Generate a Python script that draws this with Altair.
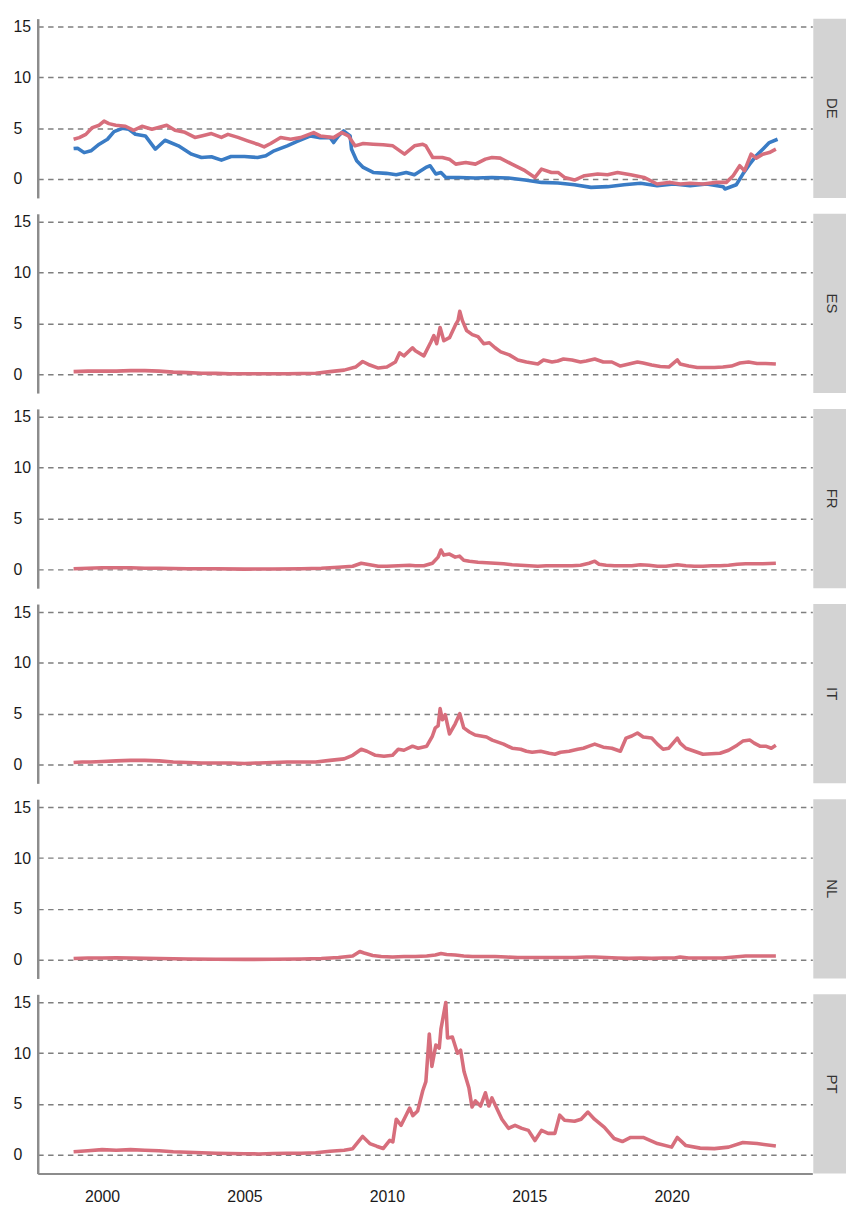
import altair as alt
import pandas as pd

countries = ["DE", "ES", "FR", "IT", "NL", "PT"]

# DE panel: blue series (short rate) and red series
de_blue_years = [1999.0, 1999.14, 1999.37, 1999.61, 1999.9, 2000.19, 2000.42, 2000.71, 2000.94, 2001.17,
                 2001.52, 2001.87, 2002.21, 2002.68, 2003.14, 2003.49, 2003.84, 2004.19, 2004.53, 2005.0,
                 2005.46, 2005.75, 2006.04, 2006.5, 2006.85, 2007.32, 2007.66, 2008.01, 2008.13, 2008.3,
                 2008.48, 2008.71, 2008.76, 2008.94, 2009.17, 2009.52, 2009.98, 2010.33, 2010.68, 2010.97,
                 2011.37, 2011.52, 2011.72, 2011.9, 2012.07, 2012.53, 2013.11, 2013.69, 2014.27, 2014.85,
                 2015.43, 2016.01, 2016.59, 2017.17, 2017.75, 2018.33, 2018.91, 2019.49, 2020.07, 2020.65,
                 2021.23, 2021.81, 2021.87, 2022.27, 2022.5, 2022.74, 2022.97, 2023.2, 2023.43, 2023.72]
de_blue_vals = [3.0, 3.04, 2.6, 2.78, 3.43, 3.92, 4.67, 5.0, 4.9, 4.41,
                4.25, 2.94, 3.82, 3.27, 2.45, 2.12, 2.19, 1.86, 2.22, 2.22,
                2.12, 2.29, 2.78, 3.27, 3.7, 4.25, 4.08, 4.08, 3.6, 4.25,
                4.74, 4.25, 2.94, 1.8, 1.14, 0.65, 0.56, 0.42, 0.65, 0.42,
                1.14, 1.31, 0.49, 0.65, 0.16, 0.16, 0.1, 0.16, 0.1, -0.1,
                -0.33, -0.39, -0.56, -0.82, -0.75, -0.56, -0.42, -0.65, -0.49, -0.65,
                -0.49, -0.75, -0.98, -0.56, 0.49, 1.47, 2.29, 2.94, 3.59, 3.92]

de_red_years = [1999.0, 1999.2, 1999.43, 1999.66, 1999.9, 2000.07, 2000.24, 2000.48, 2000.82, 2001.11,
                2001.4, 2001.75, 2001.98, 2002.27, 2002.56, 2002.91, 2003.26, 2003.49, 2003.84, 2004.19,
                2004.42, 2004.77, 2005.11, 2005.46, 2005.69, 2005.92, 2006.27, 2006.62, 2006.97, 2007.43,
                2007.66, 2008.13, 2008.42, 2008.65, 2008.88, 2009.17, 2009.52, 2009.87, 2010.21, 2010.62,
                2010.97, 2011.26, 2011.37, 2011.61, 2011.95, 2012.19, 2012.42, 2012.77, 2013.11, 2013.46,
                2013.69, 2013.98, 2014.39, 2014.85, 2015.2, 2015.43, 2015.78, 2016.01, 2016.24, 2016.59,
                2016.94, 2017.4, 2017.75, 2018.1, 2018.56, 2019.03, 2019.49, 2019.95, 2020.3, 2020.65,
                2021.11, 2021.58, 2021.92, 2022.16, 2022.39, 2022.56, 2022.79, 2022.97, 2023.2, 2023.43,
                2023.66]
de_red_vals = [3.92, 4.08, 4.4, 5.07, 5.3, 5.7, 5.46, 5.3, 5.2, 4.8,
               5.2, 4.9, 5.07, 5.3, 4.8, 4.6, 4.1, 4.25, 4.48, 4.1,
               4.4, 4.1, 3.76, 3.43, 3.17, 3.5, 4.1, 3.92, 4.08, 4.58,
               4.25, 4.08, 4.58, 4.25, 3.27, 3.5, 3.43, 3.37, 3.27, 2.45,
               3.27, 3.43, 3.27, 2.12, 2.12, 1.96, 1.47, 1.63, 1.47, 1.96,
               2.12, 2.06, 1.47, 0.82, 0.16, 0.98, 0.65, 0.65, 0.16, -0.1,
               0.33, 0.49, 0.42, 0.65, 0.42, 0.16, -0.49, -0.33, -0.49, -0.42,
               -0.49, -0.33, -0.33, 0.33, 1.31, 0.82, 2.45, 2.06, 2.45, 2.61,
               2.94]

es_years = [1999.0, 1999.5, 2000.0, 2000.5, 2001.0, 2001.5, 2002.0, 2002.5, 2003.0, 2003.5,
            2004.0, 2004.5, 2005.0, 2005.5, 2006.0, 2006.5, 2007.0, 2007.5, 2008.0, 2008.5,
            2008.9, 2009.15, 2009.4, 2009.7, 2010.0, 2010.3, 2010.45, 2010.6, 2010.9, 2011.0,
            2011.3, 2011.55, 2011.65, 2011.75, 2011.87, 2012.0, 2012.2, 2012.4, 2012.5, 2012.56,
            2012.65, 2012.8, 2013.0, 2013.2, 2013.4, 2013.6, 2013.8, 2014.0, 2014.3, 2014.6,
            2014.9, 2015.1, 2015.3, 2015.5, 2015.8, 2016.0, 2016.2, 2016.5, 2016.8, 2017.0,
            2017.3, 2017.6, 2017.9, 2018.2, 2018.5, 2018.8, 2019.0, 2019.3, 2019.6, 2019.9,
            2020.2, 2020.3, 2020.6, 2020.9, 2021.2, 2021.5, 2021.8, 2022.1, 2022.4, 2022.7,
            2023.0, 2023.3, 2023.66]
es_vals = [0.25, 0.3, 0.3, 0.3, 0.35, 0.35, 0.3, 0.2, 0.15, 0.1,
           0.08, 0.05, 0.05, 0.05, 0.05, 0.05, 0.07, 0.1, 0.25, 0.4,
           0.7, 1.25, 0.9, 0.6, 0.7, 1.2, 2.1, 1.8, 2.6, 2.3,
           1.8, 3.2, 3.8, 3.0, 4.6, 3.3, 3.6, 4.8, 5.3, 6.2,
           5.3, 4.3, 3.9, 3.7, 3.0, 3.1, 2.6, 2.2, 1.9, 1.4,
           1.2, 1.1, 1.0, 1.4, 1.2, 1.3, 1.5, 1.4, 1.2, 1.3,
           1.5, 1.2, 1.2, 0.8, 1.0, 1.2, 1.1, 0.9, 0.75, 0.7,
           1.4, 1.0, 0.8, 0.65, 0.65, 0.65, 0.7, 0.8, 1.1, 1.2,
           1.05, 1.05, 1.0]

fr_years = [1999.0, 1999.5, 2000.0, 2000.5, 2001.0, 2001.5, 2002.0, 2003.0, 2004.0, 2005.0,
            2006.0, 2007.0, 2007.7, 2008.3, 2008.8, 2009.1, 2009.4, 2009.7, 2010.0, 2010.4,
            2010.8, 2011.0, 2011.3, 2011.6, 2011.8, 2011.9, 2012.0, 2012.2, 2012.4, 2012.55,
            2012.7, 2012.9, 2013.2, 2013.5, 2013.8, 2014.1, 2014.4, 2014.7, 2015.0, 2015.3,
            2015.6, 2015.9, 2016.2, 2016.5, 2016.8, 2017.1, 2017.3, 2017.45, 2017.7, 2018.0,
            2018.3, 2018.6, 2018.9, 2019.2, 2019.5, 2019.8, 2020.2, 2020.5, 2020.8, 2021.1,
            2021.4, 2021.7, 2022.0, 2022.3, 2022.6, 2022.9, 2023.2, 2023.66]
fr_vals = [0.05, 0.1, 0.15, 0.15, 0.15, 0.1, 0.1, 0.05, 0.05, 0.02,
           0.03, 0.05, 0.1, 0.2, 0.3, 0.6, 0.45, 0.3, 0.3, 0.35,
           0.4, 0.35, 0.35, 0.6, 1.2, 1.9, 1.4, 1.5, 1.2, 1.3,
           0.9, 0.8, 0.7, 0.65, 0.6, 0.55, 0.45, 0.4, 0.35, 0.3,
           0.35, 0.35, 0.35, 0.35, 0.4, 0.6, 0.8, 0.5, 0.4, 0.35,
           0.35, 0.35, 0.45, 0.4, 0.3, 0.3, 0.45, 0.35, 0.3, 0.3,
           0.35, 0.35, 0.4, 0.5, 0.55, 0.55, 0.55, 0.6]

it_years = [1999.0, 1999.3, 1999.6, 2000.0, 2000.5, 2001.0, 2001.5, 2002.0, 2002.5, 2003.0,
            2003.5, 2004.0, 2004.5, 2005.0, 2005.5, 2006.0, 2006.5, 2007.0, 2007.5, 2008.0,
            2008.5, 2008.8, 2009.1, 2009.3, 2009.6, 2009.9, 2010.2, 2010.4, 2010.6, 2010.9,
            2011.1, 2011.4, 2011.6, 2011.7, 2011.8, 2011.87, 2011.95, 2012.05, 2012.2, 2012.4,
            2012.56, 2012.7, 2012.9, 2013.1, 2013.3, 2013.5, 2013.7, 2013.9, 2014.1, 2014.4,
            2014.7, 2014.9, 2015.1, 2015.4, 2015.7, 2015.9, 2016.1, 2016.4, 2016.7, 2016.9,
            2017.1, 2017.3, 2017.6, 2017.9, 2018.2, 2018.4, 2018.6, 2018.8, 2019.0, 2019.3,
            2019.5, 2019.7, 2019.9, 2020.2, 2020.3, 2020.5, 2020.8, 2021.1, 2021.4, 2021.7,
            2022.0, 2022.3, 2022.5, 2022.75, 2022.9, 2023.1, 2023.3, 2023.5, 2023.66]
it_vals = [0.2, 0.25, 0.25, 0.3, 0.35, 0.4, 0.4, 0.35, 0.25, 0.2,
           0.15, 0.15, 0.15, 0.1, 0.15, 0.2, 0.25, 0.25, 0.25, 0.4,
           0.55, 0.9, 1.5, 1.3, 0.9, 0.8, 0.9, 1.5, 1.4, 1.8,
           1.6, 1.8, 2.8, 3.6, 3.8, 5.5, 4.4, 4.9, 3.0, 4.0,
           5.0, 3.6, 3.2, 2.9, 2.8, 2.7, 2.4, 2.2, 2.0, 1.6,
           1.5, 1.3, 1.2, 1.3, 1.1, 1.0, 1.2, 1.3, 1.5, 1.6,
           1.8, 2.0, 1.7, 1.6, 1.3, 2.6, 2.8, 3.1, 2.7, 2.6,
           2.0, 1.5, 1.6, 2.6, 2.1, 1.6, 1.3, 1.0, 1.05, 1.1,
           1.4, 1.9, 2.3, 2.4, 2.1, 1.8, 1.8, 1.6, 1.9]

nl_years = [1999.0, 1999.5, 2000.0, 2000.5, 2001.0, 2001.5, 2002.0, 2003.0, 2004.0, 2005.0,
            2006.0, 2007.0, 2007.7, 2008.3, 2008.8, 2009.05, 2009.2, 2009.5, 2009.8, 2010.2,
            2010.6, 2011.0, 2011.4, 2011.7, 2011.9, 2012.1, 2012.4, 2012.7, 2013.0, 2013.4,
            2013.8, 2014.2, 2014.6, 2015.0, 2015.4, 2015.8, 2016.2, 2016.6, 2017.0, 2017.3,
            2017.7, 2018.1, 2018.5, 2018.9, 2019.3, 2019.7, 2020.1, 2020.3, 2020.6, 2021.0,
            2021.4, 2021.8, 2022.2, 2022.6, 2023.0, 2023.3, 2023.66]
nl_vals = [0.1, 0.15, 0.15, 0.18, 0.15, 0.12, 0.1, 0.05, 0.03, 0.02,
           0.03, 0.05, 0.1, 0.2, 0.35, 0.8, 0.65, 0.4, 0.3, 0.25,
           0.3, 0.3, 0.35, 0.45, 0.6, 0.5, 0.45, 0.35, 0.3, 0.3,
           0.3, 0.25, 0.2, 0.2, 0.2, 0.2, 0.2, 0.2, 0.25, 0.25,
           0.2, 0.15, 0.12, 0.15, 0.12, 0.15, 0.15, 0.25, 0.15, 0.15,
           0.15, 0.15, 0.25, 0.35, 0.35, 0.35, 0.35]

pt_years = [1999.0, 1999.5, 2000.0, 2000.5, 2001.0, 2001.5, 2002.0, 2002.5, 2003.0, 2003.5,
            2004.0, 2004.5, 2005.0, 2005.5, 2006.0, 2006.5, 2007.0, 2007.5, 2008.0, 2008.5,
            2008.8, 2009.15, 2009.4, 2009.64, 2009.87, 2010.1, 2010.21, 2010.33, 2010.5, 2010.8,
            2010.91, 2011.08, 2011.26, 2011.37, 2011.49, 2011.58, 2011.72, 2011.84, 2011.9, 2012.07,
            2012.13, 2012.3, 2012.48, 2012.59, 2012.71, 2012.88, 2012.99, 2013.11, 2013.29, 2013.46,
            2013.58, 2013.69, 2013.87, 2014.04, 2014.27, 2014.5, 2014.74, 2014.97, 2015.2, 2015.43,
            2015.66, 2015.9, 2016.07, 2016.24, 2016.59, 2016.82, 2017.06, 2017.29, 2017.64, 2017.98,
            2018.27, 2018.56, 2019.0, 2019.5, 2020.0, 2020.2, 2020.5, 2021.0, 2021.5, 2022.0,
            2022.5, 2023.0, 2023.66]
pt_vals = [0.3, 0.4, 0.5, 0.45, 0.5, 0.45, 0.4, 0.3, 0.25, 0.2,
           0.15, 0.12, 0.1, 0.08, 0.12, 0.15, 0.15, 0.2, 0.35, 0.45,
           0.6, 1.8, 1.1, 0.84, 0.61, 1.42, 1.26, 3.5, 2.9, 4.6,
           3.85, 4.3, 6.3, 7.2, 11.9, 8.7, 10.8, 10.5, 12.4, 15.0,
           11.5, 11.6, 10.0, 10.3, 8.2, 6.6, 4.7, 5.3, 4.8, 6.1,
           4.8, 5.6, 4.5, 3.5, 2.6, 2.9, 2.6, 2.4, 1.4, 2.4,
           2.1, 2.1, 3.9, 3.4, 3.3, 3.5, 4.2, 3.5, 2.7, 1.6,
           1.3, 1.7, 1.7, 1.1, 0.75, 1.7, 0.9, 0.65, 0.6, 0.75,
           1.2, 1.1, 0.85]

rows = []


def add(country, series, years, vals):
    assert len(years) == len(vals), (country, series, len(years), len(vals))
    for y, v in zip(years, vals):
        rows.append({"country": country, "series": series, "year": y, "value": v})


add("DE", "a_short", de_blue_years, de_blue_vals)
add("DE", "b_spread", de_red_years, de_red_vals)
add("ES", "b_spread", es_years, es_vals)
add("FR", "b_spread", fr_years, fr_vals)
add("IT", "b_spread", it_years, it_vals)
add("NL", "b_spread", nl_years, nl_vals)
add("PT", "b_spread", pt_years, pt_vals)
df = pd.DataFrame(rows)

BLUE = "#3a7cc5"
RED = "#d76e7c"
FONT = "Liberation Sans"
W, H, SW = 782, 181, 33
XDOM = [1997.74, 2024.94]
YDOM = [-1.86, 15.8]

row_charts = []
for i, c in enumerate(countries):
    last = i == len(countries) - 1
    if last:
        xaxis = alt.Axis(values=[2000, 2005, 2010, 2015, 2020], format="d", title=None, grid=False,
                         ticks=False, labelPadding=15, labelFontSize=16, labelFont=FONT,
                         labelColor="#1a1a1a", domainColor="#8c8c8c", domainWidth=2)
    else:
        xaxis = None
    yaxis = alt.Axis(values=[0, 5, 10, 15], title=None, grid=True, gridDash=[5.5, 4.5],
                     gridColor="#7f7f7f", gridWidth=1.5, ticks=False, labelAlign="left",
                     labelPadding=25, labelFontSize=16, labelFont=FONT, labelColor="#1a1a1a",
                     domainColor="#8c8c8c", domainWidth=2.5)
    panel = alt.Chart(df).transform_filter(alt.datum.country == c).mark_line(
        strokeWidth=3.6, clip=True, strokeJoin="round"
    ).encode(
        x=alt.X("year:Q", scale=alt.Scale(domain=XDOM, nice=False, zero=False), axis=xaxis),
        y=alt.Y("value:Q", scale=alt.Scale(domain=YDOM, nice=False, zero=False), axis=yaxis),
        color=alt.Color("series:N", scale=alt.Scale(domain=["a_short", "b_spread"], range=[BLUE, RED]),
                        legend=None),
    ).properties(width=W, height=H)

    lab = pd.DataFrame({"country": [c]})
    strip_bg = alt.Chart(lab).mark_rect(color="#d3d3d3").encode(
        x=alt.value(0), x2=alt.value(SW), y=alt.value(0), y2=alt.value(H)
    )
    strip_txt = alt.Chart(lab).mark_text(angle=90, fontSize=15, font=FONT, color="#333333").encode(
        x=alt.value(SW / 2 + 2), y=alt.value(H / 2), text="country:N"
    )
    strip = (strip_bg + strip_txt).properties(width=SW, height=H)
    row_charts.append(alt.hconcat(panel, strip, spacing=1))

chart = alt.vconcat(*row_charts, spacing=16).properties(
    padding={"left": 5, "top": 5, "right": 0, "bottom": 0}
).configure_view(stroke=None).configure_concat(spacing=16)

chart.save("out.html", embed_options={"renderer": "svg", "actions": False})
